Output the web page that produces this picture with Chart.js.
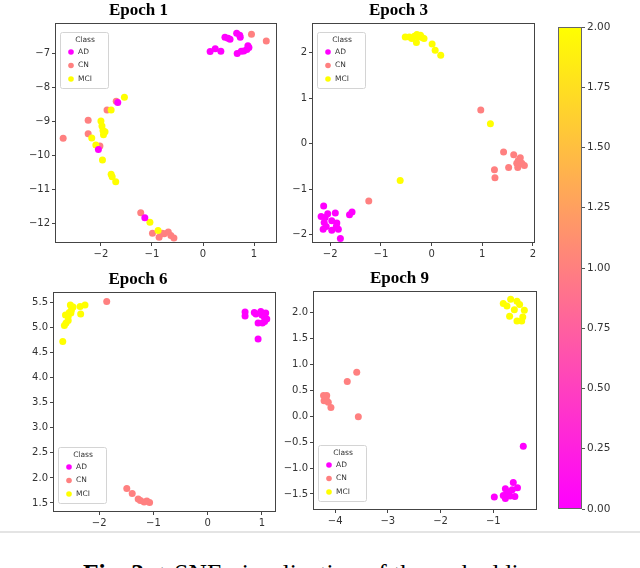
<!DOCTYPE html>
<html>
<head>
<meta charset="utf-8">
<script src="https://cdn.jsdelivr.net/npm/chart.js@4.4.1/dist/chart.umd.min.js"></script>
<style>
  html, body { margin: 0; padding: 0; background: #fff; overflow: hidden; }
  #page { position: relative; width: 640px; height: 568px; overflow: hidden; }
  .panel { position: absolute; }
  #rule { position: absolute; left: 0; top: 531px; width: 640px; height: 2px; background: #e4e4e4; }
  #caption { position: absolute; left: 83px; top: 561px; font-family: "Liberation Serif", serif; font-size: 25.5px; line-height: 26px; white-space: nowrap; color: #000; }
</style>
</head>
<body>
<div id="page">
  <div class="panel" style="left:0px;top:0px;"><canvas id="epoch1" width="290" height="262"></canvas></div>
  <div class="panel" style="left:262px;top:0px;"><canvas id="epoch3" width="290" height="262"></canvas></div>
  <div class="panel" style="left:0px;top:269px;"><canvas id="epoch6" width="290" height="262"></canvas></div>
  <div class="panel" style="left:262px;top:268px;"><canvas id="epoch9" width="290" height="262"></canvas></div>
  <div class="panel" style="left:540px;top:0px;"><canvas id="colorbar" width="100" height="530"></canvas></div>
  <div id="rule"></div>
  <div id="caption"><b>Fig. 3:</b> t-SNE visualization of the embeddings.</div>
</div>
<script>
// class names and the value each one has on the colour scale
const classNames = ["AD", "CN", "MCI"];
const classValues = [0, 1, 2];

// Epoch 1 points [x, y]
const e1AD = [[0.14,-6.94],[0.24,-6.86],[0.35,-6.93],[0.43,-6.52],[0.49,-6.55],[0.53,-6.58],[0.66,-6.40],[0.72,-6.46],[0.73,-6.52],[0.67,-7.00],[0.75,-6.93],[0.80,-6.92],[0.86,-6.88],[0.90,-6.82],[0.88,-6.77],[-2.05,-9.82],[-1.67,-8.44],[-1.14,-11.83]];
const e1CN = [[0.95,-6.43],[1.24,-6.63],[-2.74,-9.49],[-2.25,-8.96],[-2.25,-9.36],[-1.88,-8.66],[-2.02,-9.72],[-1.70,-8.40],[-1.22,-11.68],[-0.99,-12.28],[-0.86,-12.40],[-0.76,-12.30],[-0.68,-12.25],[-0.63,-12.35],[-0.57,-12.42],[-0.80,-12.28]];
const e1MCI = [[-1.54,-8.28],[-1.80,-8.66],[-2.00,-8.98],[-1.98,-9.13],[-1.96,-9.26],[-1.95,-9.39],[-1.92,-9.30],[-2.18,-9.48],[-2.10,-9.69],[-1.97,-10.13],[-1.80,-10.55],[-1.78,-10.62],[-1.71,-10.77],[-1.04,-11.96],[-0.88,-12.20]];

// Epoch 3
const e3AD = [[-2.13,-1.37],[-2.18,-1.60],[-2.12,-1.73],[-2.14,-1.88],[-2.08,-1.82],[-2.05,-1.54],[-1.97,-1.69],[-1.90,-1.52],[-1.88,-1.82],[-1.97,-1.90],[-1.84,-1.88],[-1.80,-2.08],[-1.62,-1.56],[-1.57,-1.50],[-1.87,-1.74],[-2.10,-1.62]];
const e3CN = [[0.97,0.74],[-1.24,-1.26],[1.42,-0.18],[1.62,-0.24],[1.24,-0.57],[1.25,-0.75],[1.52,-0.52],[1.71,-0.37],[1.75,-0.31],[1.78,-0.43],[1.83,-0.48],[1.70,-0.52],[1.68,-0.43]];
const e3MCI = [[-0.52,2.34],[-0.44,2.34],[-0.39,2.31],[-0.34,2.36],[-0.29,2.40],[-0.26,2.35],[-0.22,2.38],[-0.19,2.33],[-0.15,2.31],[-0.30,2.22],[0.01,2.19],[0.07,2.05],[0.18,1.94],[1.16,0.44],[-0.62,-0.81]];

// Epoch 6
const e6AD = [[0.69,5.31],[0.69,5.23],[0.86,5.30],[0.98,5.32],[1.07,5.29],[0.93,5.09],[1.01,5.09],[1.09,5.17],[1.04,5.22],[0.93,4.77],[0.89,5.27],[1.00,5.25],[1.05,5.12]];
const e6CN = [[-1.86,5.52],[-1.49,1.79],[-1.39,1.69],[-1.28,1.58],[-1.24,1.55],[-1.17,1.52],[-1.12,1.54],[-1.07,1.51]];
const e6MCI = [[-2.67,4.72],[-2.64,5.04],[-2.61,5.09],[-2.62,5.25],[-2.57,5.22],[-2.53,5.45],[-2.51,5.35],[-2.52,5.29],[-2.57,5.14],[-2.48,5.41],[-2.35,5.42],[-2.26,5.45],[-2.34,5.27],[-2.55,5.30]];

// Epoch 9
const e9AD = [[-0.43,-0.58],[-0.98,-1.56],[-0.77,-1.40],[-0.71,-1.46],[-0.62,-1.28],[-0.54,-1.38],[-0.59,-1.55],[-0.77,-1.59],[-0.81,-1.53],[-0.68,-1.54],[-0.74,-1.50],[-0.64,-1.42]];
const e9CN = [[-4.22,0.40],[-4.16,0.40],[-4.21,0.30],[-4.13,0.27],[-4.08,0.17],[-3.77,0.67],[-3.59,0.85],[-3.56,-0.01],[-4.17,0.33]];
const e9MCI = [[-0.81,2.18],[-0.74,2.13],[-0.67,2.26],[-0.55,2.22],[-0.50,2.16],[-0.41,2.05],[-0.44,1.92],[-0.55,1.84],[-0.46,1.84],[-0.69,1.93],[-0.60,2.06]];

// axis limits and tick labels
const e1XLim = [-2.9, 1.45], e1YLim = [-12.57, -6.1];
const e1XTicks = [-2, -1, 0, 1], e1YTicks = [-12, -11, -10, -9, -8, -7];
const e3XLim = [-2.36, 2.04], e3YLim = [-2.18, 2.65];
const e3XTicks = [-2, -1, 0, 1, 2], e3YTicks = [-2, -1, 0, 1, 2];
const e6XLim = [-2.85, 1.26], e6YLim = [1.32, 5.71];
const e6XTicks = [-2, -1, 0, 1], e6YTicks = [1.5, 2.0, 2.5, 3.0, 3.5, 4.0, 4.5, 5.0, 5.5];
const e9XLim = [-4.42, -0.17], e9YLim = [-1.81, 2.42];
const e9XTicks = [-4, -3, -2, -1], e9YTicks = [-1.5, -1.0, -0.5, 0.0, 0.5, 1.0, 1.5, 2.0];
const cbRange = [0, 2];
const cbTicks = [0, 0.25, 0.5, 0.75, 1.0, 1.25, 1.5, 1.75, 2.0];

Chart.defaults.font.family = "'DejaVu Sans', sans-serif";
Chart.defaults.color = "#333";

// matplotlib "spring" colormap, value in [0, 2]
function spring(v){
    const t = v / 2;
    return `rgb(255,${Math.round(255 * t)},${Math.round(255 * (1 - t))})`;
};

function minusSign(text){
    return text.replace("-", "\u2212");
};

// draws the axes frame on all four sides
const framePlugin = {
    id: "frame",
    afterDraw(chart, args, opts){
        const a = chart.chartArea;
        const ctx = chart.ctx;
        ctx.save();
        ctx.strokeStyle = opts.color || "#444";
        ctx.lineWidth = 1;
        ctx.strokeRect(Math.round(a.left) + 0.5, Math.round(a.top) + 0.5, Math.round(a.right - a.left) - 1, Math.round(a.bottom - a.top) - 1);
        ctx.restore();
    }
};

// matplotlib style legend box with a title, inside the axes
const classLegend = {
    id: "classLegend",
    afterDraw(chart, args, opts){
        const a = chart.chartArea;
        const ctx = chart.ctx;
        const w = 48, h = 56;
        const x = a.left + 5;
        const y = opts.corner === "bottom" ? a.bottom - 9 - h : a.top + 9;
        ctx.save();
        ctx.beginPath();
        ctx.roundRect(x + 0.5, y + 0.5, w, h, 2);
        ctx.fillStyle = "rgba(255,255,255,0.85)";
        ctx.fill();
        ctx.strokeStyle = "#d4d4d4";
        ctx.lineWidth = 1;
        ctx.stroke();
        ctx.font = "7.5px 'DejaVu Sans'";
        ctx.fillStyle = "#333";
        ctx.textBaseline = "middle";
        ctx.textAlign = "center";
        ctx.fillText("Class", x + w / 2 + 1, y + 8);
        ctx.textAlign = "left";
        classNames.forEach((name, i) => {
            const rowY = y + 20 + i * 13.5;
            ctx.beginPath();
            ctx.arc(x + 11, rowY, 2.8, 0, Math.PI * 2);
            ctx.fillStyle = spring(classValues[i]);
            ctx.fill();
            ctx.fillStyle = "#333";
            ctx.fillText(name, x + 18, rowY);
        });
        ctx.restore();
    }
};

function makeScatter(canvasId, title, points, xLim, yLim, xTicks, yTicks, layout){
    const drawOrder = [0, 2, 1]; // AD on top, then MCI, CN underneath
    const datasets = classNames.map((name, i) => ({
        label: name,
        data: points[i].map(p => ({x: p[0], y: p[1]})),
        backgroundColor: spring(classValues[i]),
        borderWidth: 0,
        pointRadius: 3.5,
        pointHoverRadius: 3.5,
        order: drawOrder[i],
    }));

    const axisGrid = {
        display: true,
        drawOnChartArea: false,
        drawTicks: true,
        tickLength: 3,
        tickWidth: 1,
        color: "#444",
    };

    return new Chart(document.getElementById(canvasId), {
        type: "scatter",
        data: {datasets: datasets},
        options: {
            responsive: false,
            animation: false,
            events: [],
            layout: {padding: {left: 0, right: layout.padRight, top: 0, bottom: 0}},
            scales: {
                x: {
                    type: "linear",
                    min: xLim[0],
                    max: xLim[1],
                    afterBuildTicks: (scale) => { scale.ticks = xTicks.map(v => ({value: v})); },
                    afterFit: (scale) => { scale.height = layout.xAxisHeight; },
                    ticks: {
                        padding: 2,
                        maxRotation: 0,
                        font: {size: 10},
                        callback: (v) => minusSign(String(v)),
                    },
                    grid: axisGrid,
                    border: {display: false},
                },
                y: {
                    type: "linear",
                    min: yLim[0],
                    max: yLim[1],
                    afterBuildTicks: (scale) => { scale.ticks = yTicks.map(v => ({value: v})); },
                    afterFit: (scale) => { scale.width = layout.yAxisWidth; },
                    ticks: {
                        padding: 2,
                        font: {size: 10},
                        callback: (v) => minusSign(layout.decimals ? v.toFixed(layout.decimals) : String(v)),
                    },
                    grid: axisGrid,
                    border: {display: false},
                },
            },
            plugins: {
                legend: {display: false},
                tooltip: {enabled: false},
                title: {
                    display: true,
                    text: title,
                    color: "#000",
                    font: {family: "'Liberation Serif', serif", size: 17, weight: "bold", lineHeight: 1.2},
                    padding: {top: 0, bottom: 2.6},
                },
                frame: {color: "#444"},
                classLegend: {corner: layout.legendCorner},
            },
        },
        plugins: [framePlugin, classLegend],
    });
};

makeScatter("epoch1", "Epoch 1", [e1AD, e1CN, e1MCI], e1XLim, e1YLim, e1XTicks, e1YTicks,
    {yAxisWidth: 55, xAxisHeight: 19, padRight: 13, decimals: 0, legendCorner: "top"});
makeScatter("epoch3", "Epoch 3", [e3AD, e3CN, e3MCI], e3XLim, e3YLim, e3XTicks, e3YTicks,
    {yAxisWidth: 50, xAxisHeight: 19, padRight: 17, decimals: 0, legendCorner: "top"});
makeScatter("epoch6", "Epoch 6", [e6AD, e6CN, e6MCI], e6XLim, e6YLim, e6XTicks, e6YTicks,
    {yAxisWidth: 53, xAxisHeight: 19, padRight: 14, decimals: 1, legendCorner: "bottom"});
makeScatter("epoch9", "Epoch 9", [e9AD, e9CN, e9MCI], e9XLim, e9YLim, e9XTicks, e9YTicks,
    {yAxisWidth: 51, xAxisHeight: 20, padRight: 15, decimals: 1, legendCorner: "bottom"});

// colour bar: one floating bar over the full value range, filled with the colormap
new Chart(document.getElementById("colorbar"), {
    type: "bar",
    data: {
        labels: ["class"],
        datasets: [{
            data: [cbRange],
            backgroundColor: (ctx) => {
                const area = ctx.chart.chartArea;
                if (!area) return spring(1);
                const grad = ctx.chart.ctx.createLinearGradient(0, area.bottom, 0, area.top);
                grad.addColorStop(0, spring(cbRange[0]));
                grad.addColorStop(1, spring(cbRange[1]));
                return grad;
            },
            borderWidth: 0,
            barPercentage: 1,
            categoryPercentage: 1,
        }],
    },
    options: {
        responsive: false,
        animation: false,
        events: [],
        layout: {padding: {left: 18, right: 0, top: 27, bottom: 21}},
        scales: {
            x: {display: false},
            y: {
                position: "right",
                min: cbRange[0],
                max: cbRange[1],
                afterBuildTicks: (scale) => { scale.ticks = cbTicks.map(v => ({value: v})); },
                afterFit: (scale) => { scale.width = 58; },
                ticks: {padding: 2, font: {size: 10.5}, callback: (v) => v.toFixed(2)},
                grid: {display: true, drawOnChartArea: false, drawTicks: true, tickLength: 3, color: "#555"},
                border: {display: false},
            },
        },
        plugins: {
            legend: {display: false},
            tooltip: {enabled: false},
            frame: {color: "#666"},
        },
    },
    plugins: [framePlugin],
});
</script>
</body>
</html>
